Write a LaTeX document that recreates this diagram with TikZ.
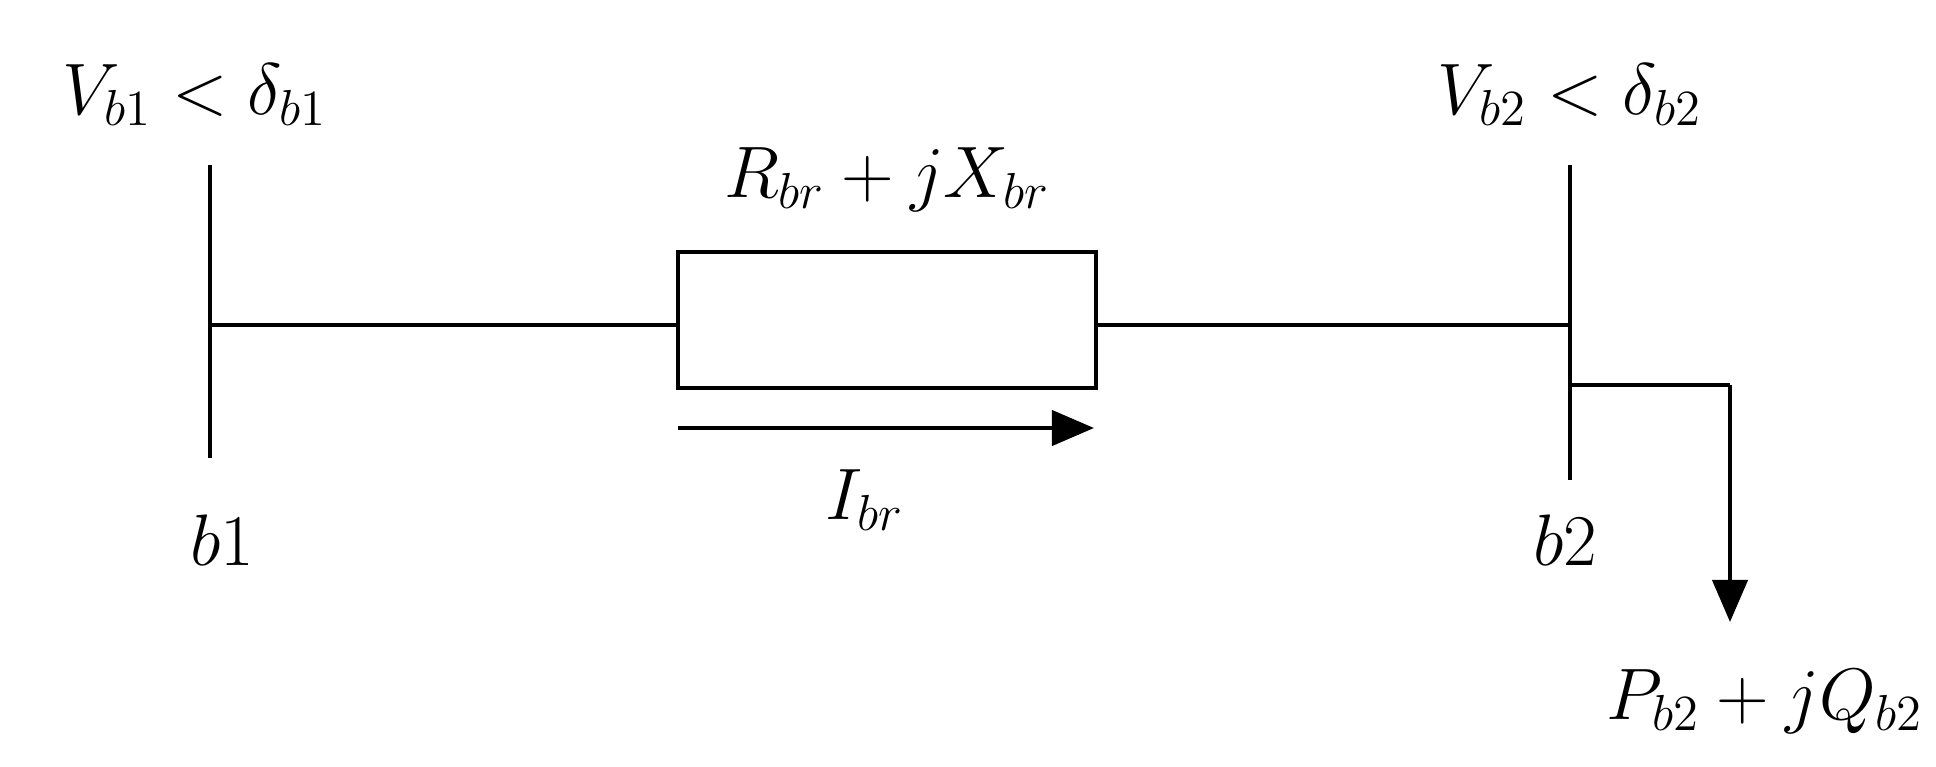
\documentclass[tikz,border=0pt]{standalone}
\usetikzlibrary{arrows.meta}
\begin{document}
\begin{tikzpicture}[x=0.01cm,y=-0.01cm,
  wire/.style={line width=1.2pt},
  lbl/.style={font=\fontsize{21}{25}\selectfont, inner sep=0pt},
  arr/.style={wire,-{Triangle[length=12pt,width=10pt]}}]
\useasboundingbox (0,0) rectangle (1936,766);
\coordinate (b1t) at (210,165); \coordinate (b1b) at (210,458);
\coordinate (b1m) at (210,325);
\coordinate (b2t) at (1570,165); \coordinate (b2b) at (1570,480);
\coordinate (b2m) at (1570,325); \coordinate (b2l) at (1570,385);
\coordinate (lc) at (1730,385); \coordinate (le) at (1730,622);
\draw[wire] (b1t) -- (b1b);
\draw[wire] (b2t) -- (b2b);
\node[wire,draw,minimum width=4.18cm,minimum height=1.36cm,inner sep=0pt] (Z) at (887,320) {};
\draw[wire] (b1m) -- (b1m -| Z.west);
\draw[wire] (b2m -| Z.east) -- (b2m);
\draw[wire] (b2l) -- (lc);
\draw[arr] (lc) -- (le);
\coordinate (ia) at (678,428); \coordinate (ib) at (1094,428);
\draw[arr] (ia) -- (ib);
\node[lbl] (v1) at (195,95) {$V_{b1} < \delta_{b1}$};
\node[lbl] (v2) at (1570,95) {$V_{b2} < \delta_{b2}$};
\node[lbl] (z) at (887,180) {$R_{br} + jX_{br}$};
\node[lbl] (i) at (865,500) {$I_{br}$};
\node[lbl] (n1) at (222,540) {$b1$};
\node[lbl] (n2) at (1565,540) {$b2$};
\node[lbl] (pq) at (1765,702) {$P_{b2} + jQ_{b2}$};
\end{tikzpicture}
\end{document}
